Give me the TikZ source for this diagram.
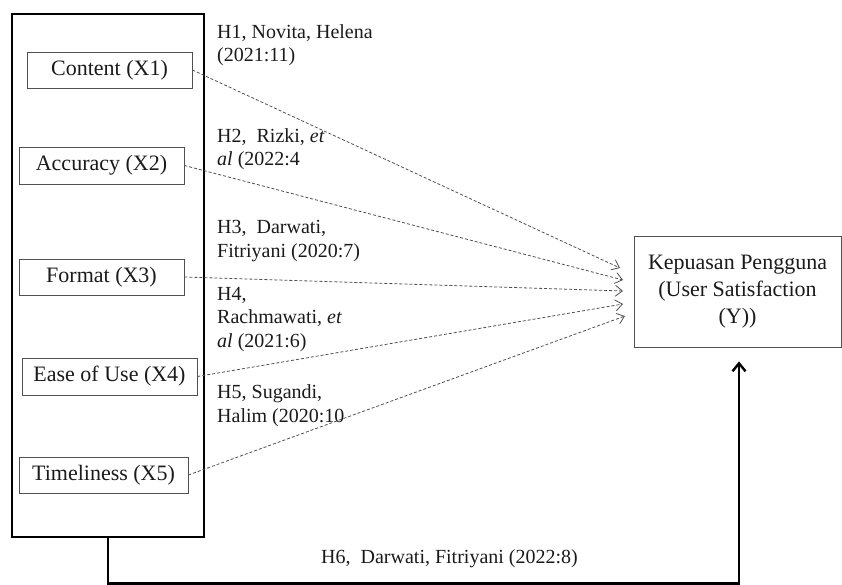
\documentclass[tikz,border=0pt]{standalone}
\usepackage{fontspec}
\setmainfont{Liberation Serif}
\usetikzlibrary{arrows.meta, positioning}
\definecolor{linegray}{HTML}{505050}
\definecolor{textblack}{HTML}{1A1A1A}
\tikzset{
  varbox/.style={draw=linegray, line width=0.8pt, inner sep=0pt, text=textblack, font=\fontsize{22}{26}\selectfont},
  hyplabel/.style={anchor=base west, align=left, inner sep=0pt, text=textblack, font=\fontsize{20}{23.5}\selectfont},
  hyparrow/.style={draw=linegray, line width=0.8pt, dash pattern=on 3pt off 2pt, -{Straight Barb[length=7pt,width=11pt]}},
  mainarrow/.style={line width=2.4pt, -{Straight Barb[length=8pt,width=13pt]}}
}

\begin{document}
\begin{tikzpicture}[x=1pt, y=-1pt]
  \useasboundingbox (0,0) rectangle (842,585);

  % Group of independent variables
  \node[draw, line width=2.6pt, minimum width=192pt, minimum height=523pt] (vars) at (108,275.5) {};

  \node[varbox, minimum width=165pt, minimum height=36pt] (content) at (109.5,70) {Content (X1)};
  \node[varbox, minimum width=165pt, minimum height=37pt] (accuracy) at (101.5,165.5) {Accuracy (X2)};
  \node[varbox, minimum width=165pt, minimum height=36pt] (format) at (101.5,277) {Format (X3)};
  \node[varbox, minimum width=175pt, minimum height=37pt] (easeofuse) at (109.5,376.5) {Ease of Use (X4)};
  \node[varbox, minimum width=169pt, minimum height=36pt] (timeliness) at (103.5,475) {Timeliness (X5)};

  % Dependent variable
  \node[varbox, minimum width=207pt, minimum height=111pt, align=center, font=\fontsize{22}{27}\selectfont] (kepuasan) at (737.5,291.5) {Kepuasan Pengguna\\(User Satisfaction\\(Y))};

  % Arrow ends in front of the dependent variable
  \coordinate (in1) at (620,268);
  \coordinate (in2) at (623,280);
  \coordinate (in3) at (623,291);
  \coordinate (in4) at (623,304);
  \coordinate (in5) at (625,316);

  % Partial hypotheses
  \draw[hyparrow] (content.east) -- (in1);
  \draw[hyparrow] (accuracy.east) -- (in2);
  \draw[hyparrow] (format.east) -- (in3);
  \draw[hyparrow] (easeofuse.east) -- (in4);
  \draw[hyparrow] (timeliness.east) -- (in5);

  % labels sit on the baseline of their last line
  \node[hyplabel] (h1) at (217,62) {H1, Novita, Helena\\(2021:11)};
  \node[hyplabel] (h2) at (217,166) {H2,\ \ Rizki, \textit{et}\\\textit{al} (2022:4};
  \node[hyplabel] (h3) at (217,257) {H3,\ \ Darwati,\\Fitriyani (2020:7)};
  \node[hyplabel] (h4) at (217,347) {H4,\\Rachmawati, \textit{et}\\\textit{al} (2021:6)};
  \node[hyplabel] (h5) at (217,422) {H5, Sugandi,\\Halim (2020:10};

  % Simultaneous hypothesis
  \draw[mainarrow] (vars.south) -- ++(0,45) -| ([xshift=1.5pt]kepuasan.south) [shorten >=14pt];
  \node[hyplabel] (h6) at (321,563) {H6,\ \ Darwati, Fitriyani (2022:8)};
\end{tikzpicture}
\end{document}
